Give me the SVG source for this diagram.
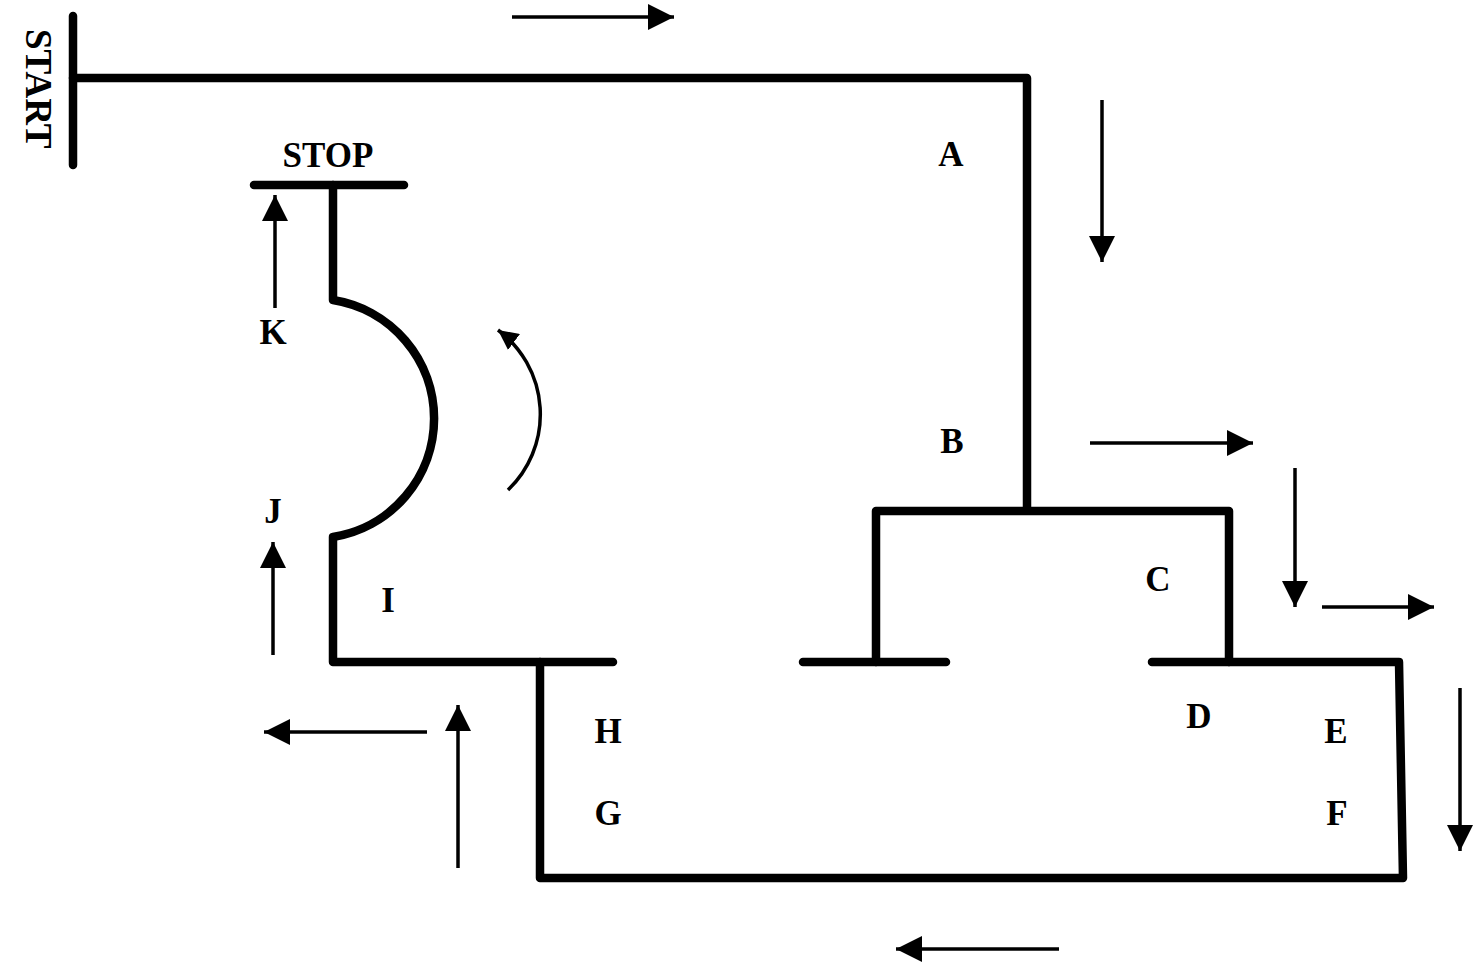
<svg xmlns="http://www.w3.org/2000/svg" width="1481" height="973" viewBox="0 0 1481 973">
<style>
.wall{fill:none;stroke:#000;stroke-width:8.5;stroke-linecap:round;stroke-linejoin:round}
.arr{fill:none;stroke:#000;stroke-width:3.5}
.lbl{font-family:"Liberation Serif",serif;font-weight:bold;font-size:35px;fill:#000;text-anchor:middle}
</style>
<defs>
<marker id="ah" viewBox="0 0 10 10" refX="10" refY="5" markerWidth="26" markerHeight="28" markerUnits="userSpaceOnUse" orient="auto">
<path d="M0,0 L10,5 L0,10 Z" fill="#000"/>
</marker>
<marker id="ahs" viewBox="0 0 10 10" refX="10" refY="5" markerWidth="20" markerHeight="20" markerUnits="userSpaceOnUse" orient="auto">
<path d="M0,0 L10,5 L0,10 Z" fill="#000"/>
</marker>
</defs>
<rect width="1481" height="973" fill="#fff"/>
<g id="track">
<path class="wall" d="M73,16 V165"/>
<path class="wall" d="M73,78 H1027 V510"/>
<path class="wall" d="M876,662 V511 H1229 V662"/>
<path class="wall" d="M803,662 H946"/>
<path class="wall" d="M1152,662 H1399 L1403,878 H540 V662"/>
<path class="wall" d="M613,662 H333 V537 A120 120 0 0 0 333,300 V185"/>
<path class="wall" d="M254,185 H404"/>
</g>
<g id="connectors">
<path class="arr" d="M512,17 H674" marker-end="url(#ah)"/>
<path class="arr" d="M1102,100 V262" marker-end="url(#ah)"/>
<path class="arr" d="M1090,443 H1253" marker-end="url(#ah)"/>
<path class="arr" d="M1295,468 V607" marker-end="url(#ah)"/>
<path class="arr" d="M1322,607 H1434" marker-end="url(#ah)"/>
<path class="arr" d="M1460,688 V851" marker-end="url(#ah)"/>
<path class="arr" d="M1059,949 H896" marker-end="url(#ah)"/>
<path class="arr" d="M427,732 H264" marker-end="url(#ah)"/>
<path class="arr" d="M458,868 V705" marker-end="url(#ah)"/>
<path class="arr" d="M273,655 V542" marker-end="url(#ah)"/>
<path class="arr" d="M275,308 V195" marker-end="url(#ah)"/>
<path class="arr" d="M508,490 A105 105 0 0 0 498,330" marker-end="url(#ahs)"/>
</g>
<g id="labels">
<text class="lbl" transform="translate(26,29) rotate(90)" style="text-anchor:start;font-size:37px">START</text>
<text class="lbl" x="328" y="167">STOP</text>
<text class="lbl" x="951" y="166">A</text>
<text class="lbl" x="952" y="453">B</text>
<text class="lbl" x="1158" y="591">C</text>
<text class="lbl" x="1199" y="728">D</text>
<text class="lbl" x="1336" y="743">E</text>
<text class="lbl" x="1337" y="825">F</text>
<text class="lbl" x="608" y="825">G</text>
<text class="lbl" x="608" y="743">H</text>
<text class="lbl" x="388" y="612">I</text>
<text class="lbl" x="273" y="523">J</text>
<text class="lbl" x="273" y="344">K</text>
</g>
</svg>
